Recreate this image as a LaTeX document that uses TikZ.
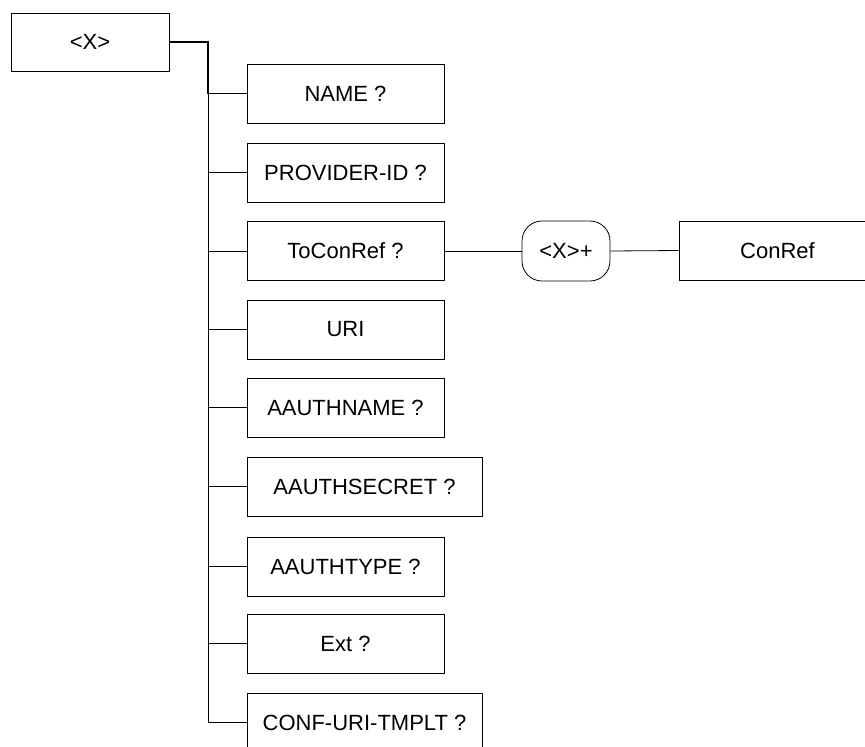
\documentclass[tikz,border=0pt]{standalone}
\usepackage{fontspec}
\setmainfont{Liberation Sans}
\begin{document}
\begin{tikzpicture}[x=1pt,y=-1pt,
  box/.style={draw, line width=0.8pt, inner sep=0pt, minimum height=59pt, font=\fontsize{22}{26}\selectfont},
  narrow/.style={box, minimum width=197pt},
  wide/.style={box, minimum width=235pt},
  link/.style={draw, line width=0.8pt},
  boldlink/.style={draw, line width=1.5pt}]
\useasboundingbox (0,0) rectangle (865,747);
\clip (0,0) rectangle (865,747);
\node[box, minimum width=158pt, minimum height=58pt] (x) at (90,42) {<X>};
\node[narrow] (name) at (345.5,93.5) {NAME ?};
\node[narrow] (prov) at (345.5,172.5) {PROVIDER-ID ?};
\node[narrow] (tocon) at (345.5,251) {ToConRef ?};
\node[narrow] (uri) at (345.5,329.5) {URI};
\node[narrow] (aname) at (345.5,407.5) {AAUTHNAME ?};
\node[wide] (asec) at (364.5,486.5) {AAUTHSECRET ?};
\node[narrow] (atype) at (345.5,566.5) {AAUTHTYPE ?};
\node[narrow] (ext) at (345.5,643.5) {Ext ?};
\node[wide] (conf) at (364.5,722.5) {CONF-URI-TMPLT ?};
\node[box, minimum width=88pt, minimum height=60pt, rounded corners=20pt] (xp) at (566,251) {<X>+};
\node[box, minimum width=197pt] (conref) at (777.5,250.5) {ConRef};
\coordinate (top) at (208,42);
\coordinate (j1) at (208,93.5);
\draw[boldlink] (x.east |- top) -- (top) -- (j1) -- (name.west);
\draw[link] (j1) -- (208,722.5) -- (conf.west);
\foreach \n in {prov,tocon,uri,aname,asec,atype,ext}
  \draw[link] (208,0 |- \n.west) -- (\n.west);
\draw[link] (tocon.east) -- (xp.west);
\draw[link] (xp.east) -- (conref.west);
\end{tikzpicture}
\end{document}
